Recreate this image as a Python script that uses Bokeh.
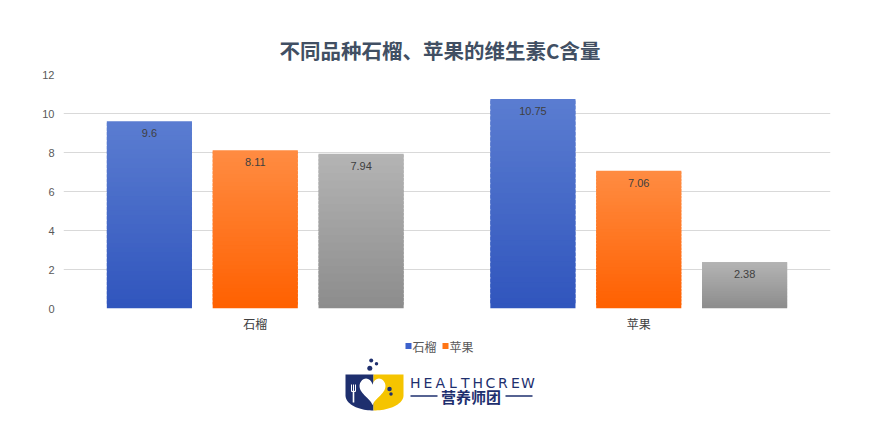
import numpy as np
from bokeh.plotting import figure
from bokeh.models import ColumnDataSource, FactorRange, Range1d, FixedTicker
from bokeh.transform import dodge
from bokeh.layouts import column
from bokeh.core.properties import value
from bokeh.embed import file_html
from bokeh.resources import INLINE

# ---------------- data ----------------
categories = ["石榴", "苹果"]
series_blue = [9.6, 10.75]
series_orange = [8.11, 7.06]
series_gray = [7.94, 2.38]
legend_labels = ["石榴", "苹果"]
y_ticks = [0, 2, 4, 6, 8, 10, 12]
title_text = "不同品种石榴、苹果的维生素C含量"

CJK = "Noto Sans CJK SC"
LAT = "Liberation Sans"


def hex2rgb(h):
    h = h.lstrip("#")
    return tuple(int(h[i:i + 2], 16) for i in (0, 2, 4))


def mix(c0, c1, f):
    a, b = hex2rgb(c0), hex2rgb(c1)
    return "#%02x%02x%02x" % tuple(int(round(a[k] + (b[k] - a[k]) * f)) for k in range(3))


def gradient_source(values, top_hex, bot_hex, n=40):
    xs, b, t, c = [], [], [], []
    for cat, v in zip(categories, values):
        for i in range(n):
            f0 = i / n
            f1 = min(1.0, (i + 1.7) / n)
            xs.append(cat)
            b.append(v * f0)
            t.append(v * f1)
            c.append(mix(bot_hex, top_hex, (i + 0.5) / n))
    return ColumnDataSource(dict(x=xs, b=b, t=t, c=c))


W = 860
FL, FR = 63, 830          # frame left / right (page px)
MAIN_H = 335
p = figure(x_range=FactorRange(*categories), y_range=Range1d(0, 12),
           width=W, height=MAIN_H, output_backend="svg", toolbar_location=None,
           min_border_left=FL, min_border_right=W - FR, min_border_top=74, min_border_bottom=27)
p.x_range.range_padding = 0
p.outline_line_color = None
p.background_fill_color = "white"
p.xgrid.grid_line_color = None
p.ygrid.grid_line_color = "#d9d9d9"
p.ygrid.grid_line_width = 1

p.title.text = title_text
p.title.align = "left"
p.title.offset = 216
p.title.text_font = CJK
p.title.text_font_size = "20.5px"
p.title.text_font_style = "bold"
p.title.text_color = "#414f63"
p.title.standoff = 20

p.yaxis.ticker = FixedTicker(ticks=y_ticks)
for ax in (p.xaxis[0], p.yaxis[0]):
    ax.axis_line_color = None
    ax.major_tick_line_color = None
    ax.minor_tick_line_color = None
p.yaxis.major_label_standoff = 3
p.xaxis.major_label_standoff = 0
p.yaxis.major_label_text_font = LAT
p.yaxis.major_label_text_font_size = "11px"
p.yaxis.major_label_text_color = "#595959"
p.xaxis.major_label_text_font = CJK
p.xaxis.major_label_text_font_size = "12px"
p.xaxis.major_label_text_color = "#404040"

bar_w = 0.222
offsets = [-0.276, 0.0, 0.276]
styles = [
    (series_blue, "#5b7dd1", "#3055bd"),
    (series_orange, "#ff8c42", "#ff6000"),
    (series_gray, "#b4b4b4", "#8c8c8c"),
]
for (vals, top_c, bot_c), off in zip(styles, offsets):
    src = gradient_source(vals, top_c, bot_c)
    p.vbar(x=dodge("x", off, range=p.x_range), width=bar_w, bottom="b", top="t",
           fill_color="c", line_color=None, source=src)
    lab = ColumnDataSource(dict(x=categories, y=vals, txt=[str(v) for v in vals]))
    p.text(x=dodge("x", off, range=p.x_range), y="y", text="txt", source=lab,
           text_align="center", text_baseline="middle", y_offset=12,
           text_font=value(LAT), text_font_size="11px", text_color="#404040")

# ---------------- legend + logo panel (data coords == page px) ----------------
LOW_H = 88
q = figure(width=W, height=LOW_H, x_range=Range1d(FL, FR),
           y_range=Range1d(MAIN_H + LOW_H, MAIN_H),
           output_backend="svg", toolbar_location=None,
           min_border_left=FL, min_border_right=W - FR, min_border_top=0, min_border_bottom=0,
           x_axis_type=None, y_axis_type=None)
q.outline_line_color = None
q.xgrid.visible = False
q.ygrid.visible = False

# legend
q.scatter(x=[408, 445], y=[345.5, 345.5], marker="square", size=6,
          fill_color=["#3d62cc", "#ff7514"], line_color=None)
q.text(x=[412, 449], y=[345.5, 345.5], text=legend_labels, text_align="left",
       text_baseline="middle", text_font=value(CJK), text_font_size="12px",
       text_color="#595959")

# logo
NAVY = "#1e2f6e"
YEL = "#f5c400"
t = np.linspace(0, np.pi / 2, 24)
mid = 373
q.patch([345, mid, mid] + list(mid - 28 * np.cos(t))[::-1] + [345],
        [374, 374, 410] + list(395 + 15 * np.sin(t))[::-1] + [395],
        fill_color=NAVY, line_color=None)
q.patch([403, mid, mid] + list(mid + 30 * np.cos(t))[::-1] + [403],
        [374, 374, 410] + list(395 + 15 * np.sin(t))[::-1] + [395],
        fill_color=YEL, line_color=None)
s = np.linspace(0, 2 * np.pi, 90)
hx = 16 * np.sin(s) ** 3
hy = 13 * np.cos(s) - 5 * np.cos(2 * s) - 2 * np.cos(3 * s) - np.cos(4 * s)
q.patch(372 + hx * 0.81, 389.2 - hy * 0.93, fill_color="white", line_color=None)
for fx in (351, 353, 355):
    q.line([fx, fx], [384, 391], line_color="white", line_width=1)
q.line([351, 355], [391, 391], line_color="white", line_width=1)
q.line([353, 353], [390, 402], line_color="white", line_width=1.6)
q.scatter([370.7, 376, 369.3, 389, 390.5], [360, 363.3, 367.7, 388.5, 393.5],
          size=[4, 3.5, 5, 4.5, 3.5], marker="circle", fill_color=NAVY, line_color=None)

word = "HEALTHCREW"
q.text(x=[414.8 + i * 12.5 for i in range(len(word))], y=[382] * len(word),
       text=list(word), text_align="center", text_baseline="middle",
       text_font=value("DejaVu Sans"), text_font_size="14px", text_color=NAVY)
q.text(x=[470.5], y=[395.5], text=["营养师团"], text_align="center", text_baseline="middle",
       text_font=value(CJK), text_font_size="15px", text_font_style="bold", text_color=NAVY)
q.segment(x0=[410, 505], y0=[395.5, 395.5], x1=[437, 532], y1=[395.5, 395.5],
          line_color=NAVY, line_width=1.5)

layout = column(p, q, spacing=0)
open("out.html", "w").write(file_html(layout, INLINE))
